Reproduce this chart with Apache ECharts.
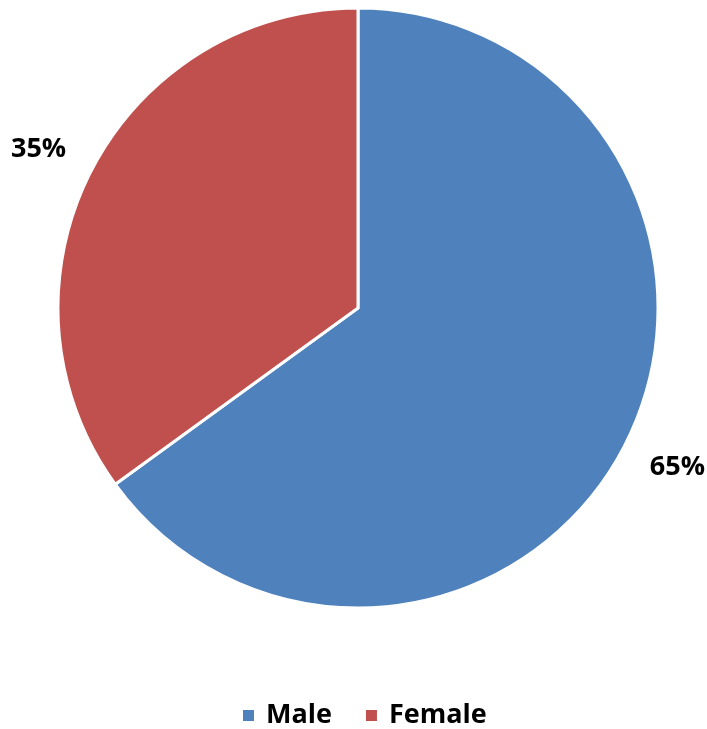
<!DOCTYPE html>
<html>
<head>
<meta charset="utf-8">
<script src="https://cdn.jsdelivr.net/npm/echarts@6/dist/echarts.min.js"></script>
<style>
html,body{margin:0;padding:0;background:#fff;}
#chart{width:707px;height:729px;}
</style>
</head>
<body>
<div id="chart"></div>
<script>
const categories = ['Male', 'Female'];
const values = [65, 35];
const colors = ['#4F81BD', '#C0504D'];

const chart = echarts.init(document.getElementById('chart'));
chart.setOption({
  animation: false,
  color: colors,
  legend: {
    data: categories,
    top: 697,
    left: 236,
    icon: 'rect',
    itemWidth: 13,
    itemHeight: 13,
    itemGap: 32,
    textStyle: { fontFamily: 'Open Sans', fontWeight: 'bold', fontSize: 27, color: '#000', padding: [0, 0, 0, 6] }
  },
  series: [{
    type: 'pie',
    center: [358, 308],
    radius: 300,
    startAngle: 90,
    clockwise: true,
    avoidLabelOverlap: false,
    itemStyle: { borderColor: '#fff', borderWidth: 3 },
    label: {
      show: true,
      position: 'outside',
      formatter: p => Math.round(p.percent) + '%',
      fontFamily: 'Open Sans',
      fontWeight: 'bold',
      fontSize: 27,
      color: '#000',
      distanceToLabelLine: -20
    },
    labelLine: { show: false, length: 50, length2: 0 },
    emphasis: { disabled: true },
    data: categories.map((c, i) => ({ name: c, value: values[i] }))
  }]
});
</script>
</body>
</html>
